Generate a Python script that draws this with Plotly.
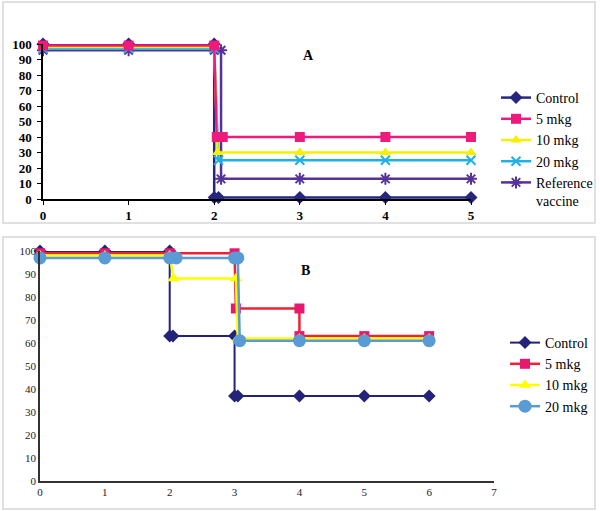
import plotly.graph_objects as go

W, H = 600, 511

# ---------------- Panel A data ----------------
a_names = ["Control", "5 mkg", "10 mkg", "20 mkg", "Reference<br>vaccine"]
a_control_x = [0, 1, 2, 2, 2.05, 3, 4, 5]
a_control_y = [100, 100, 100, 1, 1, 1, 1, 1]
a_5_x = [0, 1, 2, 2.03, 2.1, 3, 4, 5]
a_5_y = [99, 99, 99, 40, 40, 40, 40, 40]
a_10_x = [0, 1, 2, 2.04, 3, 4, 5]
a_10_y = [98, 98, 98, 30, 30, 30, 30]
a_20_x = [0, 1, 2, 2.05, 3, 4, 5]
a_20_y = [97, 97, 97, 25, 25, 25, 25]
a_ref_x = [0, 1, 2, 2.08, 2.08, 3, 4, 5]
a_ref_y = [96, 96, 96, 96, 13, 13, 13, 13]
a_xticks = [0, 1, 2, 3, 4, 5]
a_yticks = [0, 10, 20, 30, 40, 50, 60, 70, 80, 90, 100]

# ---------------- Panel B data ----------------
b_names = ["Control", "5 mkg", "10 mkg", "20 mkg"]
b_control_x = [0, 1, 2, 2, 2.05, 3, 3, 3.05, 4, 5, 6]
b_control_y = [100, 100, 100, 63, 63, 63, 37, 37, 37, 37, 37]
b_5_x = [0, 1, 2, 3, 3.02, 4, 4, 5, 6]
b_5_y = [99, 99, 99, 99, 75, 75, 63, 63, 63]
b_10_x = [0, 1, 2, 2.06, 3.02, 3.05, 4, 5, 6]
b_10_y = [98, 98, 98, 88, 88, 62, 62, 62, 62]
b_20_x = [0, 1, 2, 2.1, 3, 3.05, 3.08, 4, 5, 6]
b_20_y = [97, 97, 97, 97, 97, 97, 61, 61, 61, 61]
b_xticks = [0, 1, 2, 3, 4, 5, 6, 7]
b_yticks = [0, 10, 20, 30, 40, 50, 60, 70, 80, 90, 100]

SERIF = "Liberation Serif"

def px_x(p):
    return p / W

def px_y(p):
    return (H - p) / H

fig = go.Figure()

a_styles = [
    dict(line=dict(color="#262680", width=2.5), marker=dict(symbol="diamond", size=10, color="#262680")),
    dict(line=dict(color="#ee1a7c", width=2.5), marker=dict(symbol="square", size=10, color="#ee1a7c")),
    dict(line=dict(color="#f7f000", width=2.5), marker=dict(symbol="triangle-up", size=10, color="#f7f000")),
    dict(line=dict(color="#1fb0e8", width=2.5), marker=dict(symbol="x-thin-open", size=9, color="#1fb0e8", line=dict(width=2, color="#1fb0e8"))),
    dict(line=dict(color="#553399", width=2.5), marker=dict(symbol="asterisk-open", size=10, color="#553399", line=dict(width=2, color="#553399"))),
]
a_data = [(a_control_x, a_control_y), (a_5_x, a_5_y), (a_10_x, a_10_y), (a_20_x, a_20_y), (a_ref_x, a_ref_y)]
for i in [0, 4, 3, 2, 1]:
    xs, ys = a_data[i]
    fig.add_trace(go.Scatter(
        x=xs, y=ys, name=a_names[i], mode="lines+markers",
        xaxis="x", yaxis="y", legend="legend", legendrank=i + 1,
        legendgroup="a%d" % i, cliponaxis=False, **a_styles[i]))

b_styles = [
    dict(line=dict(color="#23237a", width=2), marker=dict(symbol="diamond", size=10, color="#23237a")),
    dict(line=dict(color="#ee2233", width=2.5), marker=dict(symbol="square", size=10, color="#e8186e")),
    dict(line=dict(color="#ffff00", width=2.5), marker=dict(symbol="triangle-up", size=11, color="#ffff00")),
    dict(line=dict(color="#5b9bd5", width=2.5), marker=dict(symbol="circle", size=13, color="#5b9bd5")),
]
b_data = [(b_control_x, b_control_y), (b_5_x, b_5_y), (b_10_x, b_10_y), (b_20_x, b_20_y)]
for i in [0, 1, 2, 3]:
    xs, ys = b_data[i]
    fig.add_trace(go.Scatter(
        x=xs, y=ys, name=b_names[i], mode="lines+markers",
        xaxis="x2", yaxis="y2", legend="legend2", legendrank=i + 1,
        legendgroup="b%d" % i, cliponaxis=False, **b_styles[i]))

axis_a = dict(showgrid=False, zeroline=False, showline=True, linecolor="#000000", linewidth=1.5,
              ticks="outside", ticklen=4, tickcolor="#000000", automargin=False,
              tickfont=dict(family=SERIF, size=13, color="#000000", weight="bold"))
axis_b = dict(showgrid=False, zeroline=False, showline=True, linecolor="#333333", linewidth=1.5,
              ticks="", automargin=False, tickfont=dict(family=SERIF, size=11, color="#222222"))

fig.update_layout(
    width=W, height=H, margin=dict(l=0, r=0, t=0, b=0, autoexpand=False),
    paper_bgcolor="#ffffff", plot_bgcolor="rgba(0,0,0,0)",
    showlegend=True,
    xaxis=dict(domain=[px_x(43), px_x(471)], range=[0, 5], tickvals=a_xticks, anchor="y", **axis_a),
    yaxis=dict(domain=[px_y(199), px_y(44)], range=[0, 100], tickvals=a_yticks, anchor="x",
               ticklabelstandoff=3, **axis_a),
    xaxis2=dict(domain=[px_x(40), px_x(494)], range=[0, 7], tickvals=b_xticks, anchor="y2", **axis_b),
    yaxis2=dict(domain=[px_y(481), px_y(251)], range=[0, 100], tickvals=b_yticks, anchor="x2", **axis_b),
    legend=dict(x=px_x(496), y=px_y(82), xanchor="left", yanchor="top", bgcolor="rgba(0,0,0,0)",
                font=dict(family=SERIF, size=14, color="#000000"), itemwidth=30,
                traceorder="grouped", tracegroupgap=0, valign="top"),
    legend2=dict(x=px_x(505), y=px_y(327), xanchor="left", yanchor="top", bgcolor="rgba(0,0,0,0)",
                 font=dict(family=SERIF, size=14, color="#000000"), itemwidth=30,
                 traceorder="grouped", tracegroupgap=0),
    annotations=[
        dict(text="<b>A</b>", x=px_x(308), y=px_y(46), xref="paper", yref="paper", showarrow=False,
             font=dict(family=SERIF, size=14, color="#000000")),
        dict(text="<b>B</b>", x=px_x(305), y=px_y(270), xref="paper", yref="paper", showarrow=False,
             font=dict(family=SERIF, size=14, color="#000000")),
    ],
    shapes=[
        dict(type="rect", xref="paper", yref="paper", x0=px_x(3), x1=px_x(595), y0=px_y(223), y1=px_y(2),
             line=dict(color="#d6d6d6", width=1.5)),
        dict(type="rect", xref="paper", yref="paper", x0=px_x(3), x1=px_x(595), y0=px_y(509), y1=px_y(237),
             line=dict(color="#d6d6d6", width=1.5)),
    ],
)

fig.write_html("out.html", config={"displayModeBar": False},
               post_script="document.body.style.margin='0';document.body.style.padding='0';")
